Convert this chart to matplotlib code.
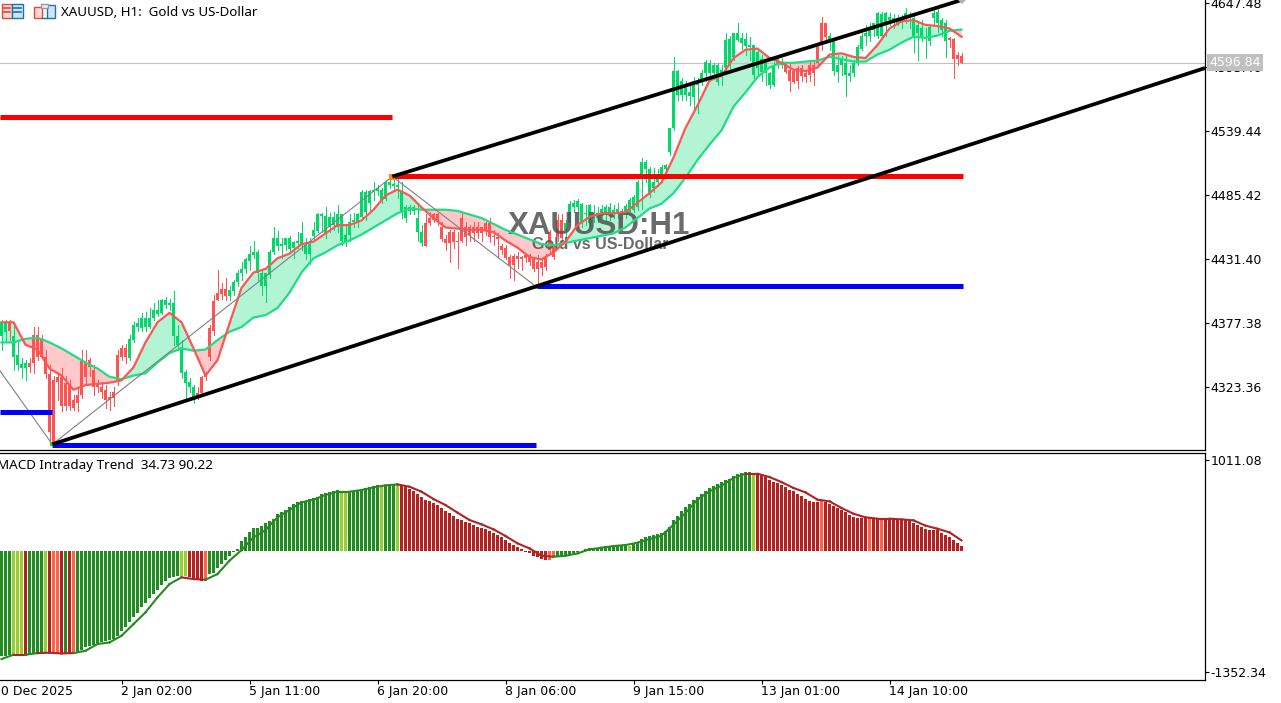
import matplotlib
matplotlib.use("Agg")
import matplotlib.pyplot as plt
from matplotlib.patches import Rectangle
import numpy as np

plt.rcParams['font.family'] = ['Noto Sans', 'DejaVu Sans']

opens = [4366,4370,4378,4349,4342,4339,4339,4344,4367,4367,
4365,4349,4334,4329,4332,4332,4327,4325,4312,4317,
4345,4344,4346,4338,4325,4323,4321,4315,4319,4350,
4356,4356,4348,4363,4374,4373,4374,4374,4382,4385,
4386,4393,4393,4366,4359,4335,4327,4323,4315,4318,
4332,4334,4373,4396,4403,4406,4406,4400,4404,4412,
4420,4423,4430,4435,4420,4409,4409,4418,4437,4442,
4442,4443,4440,4441,4445,4444,4436,4436,4451,4455,
4468,4453,4458,4460,4458,4447,4446,4452,4463,4463,
4467,4471,4479,4488,4489,4480,4482,4494,4493,4492,
4470,4466,4472,4472,4454,4445,4462,4466,4469,4469,
4458,4448,4454,4454,4447,4466,4458,4458,4458,4458,
4458,4462,4462,4451,4450,4442,4441,4433,4434,4434,
4433,4435,4435,4431,4429,4429,4433,4454,4442,4464,
4464,4456,4462,4475,4475,4462,4469,4462,4466,4466,
4470,4469,4469,4469,4469,4469,4469,4471,4473,4475,
4502,4507,4485,4491,4496,4502,4507,4522,4542,4570,
4570,4570,4569,4568,4578,4582,4588,4588,4588,4581,
4585,4593,4595,4602,4616,4614,4611,4610,4587,4593,
4589,4588,4578,4578,4595,4595,4597,4591,4590,4593,
4593,4588,4595,4595,4610,4631,4631,4615,4590,4589,
4595,4587,4586,4588,4597,4609,4620,4620,4625,4620,
4620,4629,4633,4631,4631,4631,4634,4635,4618,4622,
4618,4618,4615,4635,4631,4625,4615,4618,4617,4604,
4603]
closes = [4378,4378,4371,4366,4350,4343,4344,4340,4344,4349,
4349,4334,4285,4276,4328,4307,4307,4307,4306,4310,
4317,4332,4340,4323,4323,4319,4312,4312,4314,4329,
4349,4349,4364,4376,4377,4382,4382,4382,4388,4388,
4397,4397,4394,4394,4366,4357,4336,4328,4323,4315,
4318,4332,4349,4371,4397,4402,4400,4405,4412,4420,
4423,4431,4436,4437,4437,4420,4420,4437,4449,4449,
4444,4449,4449,4446,4447,4453,4443,4444,4456,4469,
4469,4468,4467,4467,4469,4469,4452,4463,4464,4469,
4488,4488,4489,4490,4491,4490,4496,4496,4495,4494,
4488,4475,4475,4475,4466,4454,4442,4462,4464,4463,
4448,4445,4445,4446,4446,4447,4450,4452,4453,4453,
4453,4456,4450,4450,4448,4439,4432,4426,4426,4431,
4431,4432,4429,4423,4423,4424,4425,4439,4433,4450,
4449,4462,4478,4479,4480,4478,4470,4477,4470,4470,
4474,4475,4475,4473,4474,4472,4476,4481,4484,4496,
4513,4513,4507,4496,4499,4509,4511,4542,4590,4590,
4582,4577,4572,4582,4581,4588,4598,4597,4595,4595,
4591,4616,4617,4622,4622,4618,4617,4612,4612,4606,
4600,4597,4588,4595,4601,4597,4589,4582,4581,4582,
4586,4585,4587,4588,4597,4614,4619,4620,4615,4595,
4599,4597,4588,4597,4610,4620,4622,4626,4631,4639,
4638,4639,4636,4635,4635,4633,4639,4637,4635,4629,
4626,4619,4627,4639,4640,4633,4631,4616,4600,4600,
4597]
highs = [4380,4380,4380,4376,4361,4348,4346,4348,4374,4374,
4367,4355,4342,4333,4335,4339,4333,4329,4317,4323,
4355,4355,4348,4342,4329,4328,4325,4319,4323,4355,
4359,4360,4367,4378,4382,4386,4387,4390,4394,4397,
4398,4399,4398,4404,4376,4363,4338,4331,4325,4323,
4333,4336,4376,4401,4422,4411,4415,4409,4414,4422,
4429,4432,4442,4447,4439,4422,4420,4439,4458,4455,
4449,4449,4451,4447,4454,4463,4449,4449,4463,4470,
4470,4475,4470,4471,4477,4469,4460,4469,4470,4470,
4490,4490,4490,4496,4494,4491,4498,4500,4502,4500,
4496,4477,4477,4477,4477,4460,4469,4471,4470,4470,
4463,4452,4456,4456,4454,4470,4463,4460,4463,4463,
4458,4463,4466,4456,4453,4444,4443,4435,4436,4437,
4434,4435,4436,4432,4435,4432,4436,4456,4443,4469,
4469,4464,4480,4481,4482,4479,4477,4478,4477,4475,
4477,4477,4479,4477,4479,4474,4478,4483,4485,4498,
4517,4515,4509,4508,4507,4511,4512,4542,4602,4591,
4584,4582,4578,4585,4584,4591,4599,4599,4597,4597,
4595,4622,4620,4622,4631,4622,4622,4619,4612,4608,
4604,4598,4589,4598,4602,4601,4598,4598,4591,4594,
4595,4591,4599,4599,4612,4636,4631,4622,4616,4604,
4603,4604,4595,4599,4612,4622,4629,4631,4631,4640,
4640,4640,4639,4638,4637,4637,4643,4640,4637,4631,
4633,4626,4629,4642,4642,4635,4633,4619,4618,4606,
4605]
lows = [4355,4363,4363,4338,4338,4331,4329,4336,4335,4346,
4348,4331,4278,4275,4312,4303,4304,4304,4304,4303,
4314,4325,4333,4317,4319,4314,4306,4304,4307,4325,
4346,4344,4346,4361,4371,4371,4371,4373,4380,4383,
4385,4390,4388,4359,4355,4331,4314,4319,4310,4313,
4316,4329,4346,4367,4397,4398,4397,4397,4401,4409,
4414,4420,4422,4432,4414,4401,4395,4415,4436,4439,
4432,4439,4437,4432,4441,4439,4431,4427,4447,4454,
4454,4449,4454,4456,4454,4443,4442,4447,4458,4458,
4466,4464,4473,4481,4485,4479,4481,4491,4490,4483,
4466,4463,4469,4469,4447,4442,4442,4460,4463,4460,
4447,4439,4429,4441,4424,4446,4443,4447,4447,4449,
4447,4452,4446,4443,4433,4436,4431,4415,4414,4424,
4422,4429,4426,4421,4410,4418,4422,4437,4431,4447,
4447,4450,4460,4471,4471,4458,4460,4459,4463,4463,
4466,4464,4464,4466,4466,4466,4466,4469,4471,4473,
4474,4496,4484,4488,4493,4496,4505,4519,4540,4566,
4566,4566,4561,4557,4555,4578,4582,4582,4584,4578,
4578,4591,4593,4599,4615,4609,4604,4599,4584,4587,
4582,4578,4576,4577,4593,4593,4588,4573,4580,4576,
4582,4581,4582,4578,4595,4608,4616,4608,4587,4581,
4587,4569,4582,4586,4595,4608,4612,4615,4620,4618,
4618,4620,4629,4626,4629,4626,4631,4626,4606,4599,
4615,4601,4612,4629,4623,4620,4602,4610,4584,4595,
4597]

# moving averages, read every third bar
ma_bars = list(range(0, 241, 3))
ma_fast = [4378,4378,4359,4355,4339,4333,4321,4325,4326,4327,4329,4340,4361,4378,4386,4378,4356,4333,4346,4377,
4407,4420,4423,4432,4436,4444,4446,4453,4460,4460,4464,4473,4485,4490,4485,4475,4466,4458,4457,4456,
4456,4454,4447,4441,4433,4431,4437,4446,4460,4467,4470,4470,4471,4479,4487,4496,4517,4542,4561,4582,
4586,4601,4608,4609,4601,4597,4591,4590,4593,4604,4605,4602,4601,4612,4626,4632,4633,4629,4628,4626,4619]
ma_slow = [4361,4361,4364,4365,4361,4356,4350,4344,4339,4332,4330,4333,4335,4344,4352,4356,4354,4355,4363,4370,
4374,4382,4384,4390,4403,4420,4432,4437,4443,4447,4452,4458,4464,4470,4474,4473,4473,4473,4472,4469,
4466,4461,4456,4452,4448,4444,4443,4445,4447,4449,4451,4453,4458,4466,4474,4478,4487,4500,4515,4528,
4540,4560,4572,4585,4593,4597,4597,4598,4599,4602,4600,4598,4598,4604,4608,4614,4619,4618,4620,4624,4625]

macd_hist = [-1178,-1171,-1163,-1159,-1152,-1152,-1152,-1152,-1145,-1145,
-1133,-1133,-1133,-1145,-1137,-1145,-1145,-1145,-1145,-1133,
-1104,-1078,-1063,-1048,-1033,-1018,-1003,-992,-985,-948,
-892,-847,-799,-743,-695,-632,-587,-531,-483,-435,
-383,-334,-308,-290,-279,-279,-279,-290,-308,-327,
-342,-342,-260,-253,-193,-149,-104,-56,-11,19,
111,149,204,249,253,279,305,334,353,409,
427,453,483,520,539,550,557,576,583,595,
632,639,650,661,676,650,647,650,650,669,
684,695,706,721,728,713,736,739,747,743,
732,717,687,669,632,602,565,554,535,509,
479,442,424,390,353,342,323,305,286,268,
256,242,219,201,175,156,119,89,63,41,
19,-19,-30,-59,-67,-89,-104,-104,-67,-74,
-59,-59,-48,-30,-19,-4,15,26,26,26,
37,48,52,52,59,59,74,56,82,97,
130,152,167,178,190,201,223,264,346,390,
446,487,524,569,602,635,669,702,725,747,
762,792,803,836,858,870,881,881,847,858,
847,829,792,769,758,736,710,680,661,635,
606,580,557,539,539,550,539,524,502,479,
457,427,394,372,360,360,364,364,357,353,
353,353,353,353,346,338,338,338,308,290,
264,245,234,234,234,201,178,156,123,89,
56]
macd_signal = [-1208,-1159,-1159,-1141,-1137,-1145,-1141,-1115,-1040,-1022,-948,-818,-687,-520,-372,-297,-316,-323,-260,-111,
7,149,230,372,453,539,569,621,658,658,676,706,728,739,713,658,576,509,424,342,
294,238,164,82,26,-56,-67,-56,-30,15,33,52,63,89,130,167,290,420,569,661,
725,810,858,858,821,765,699,650,569,550,476,412,372,357,357,349,338,279,245,204,115]
light_bars = [3,4,5,11,45,46,85,86,95,99,157,188]
tomato_bars = [13,14,18,51,137,138,205,217,220]
red_bars = [6,12,15,17,47,48,49,50] + list(range(100,137)) + list(range(189,241))

high_lines = [4551.25, 4501.1]
low_lines = [4301.9, 4274.8, 4408.2]
zigzag_bars = [-0.375, 12.7, 97.7, 133.7]
zigzag_prices = [4337, 4275, 4501, 4408]
channel_upper_bars = [97.7, 240]
channel_upper_prices = [4501, 4650]
channel_lower_bars = [12.7, 300.875]
channel_lower_prices = [4275, 4592.6]
bid = 4596.84

date_bars = [-2, 30, 62, 94, 126, 158, 190, 222]
date_labels = ["30 Dec 2025", "2 Jan 02:00", "5 Jan 11:00", "6 Jan 20:00",
               "8 Jan 06:00", "9 Jan 15:00", "13 Jan 01:00", "14 Jan 10:00"]
price_ticks = [4647.48, 4593.46, 4539.44, 4485.42, 4431.40, 4377.38, 4323.36]
macd_ticks = [1011.08, -1352.34]

W, H = 1281, 703
AXR = 1205
NUM_FONT = "DejaVu Sans"
fig = plt.figure(figsize=(W / 100, H / 100), dpi=100, facecolor="white")
ax = fig.add_axes([0, 1 - 450 / H, AXR / W, 450 / H])
ax2 = fig.add_axes([0, 1 - 680 / H, AXR / W, 227 / H])
for a in (ax, ax2):
    a.set_xlim(-0.375, 300.875)
    a.spines["left"].set_visible(False)
    a.spines["top"].set_visible(a is ax2)
    a.spines["right"].set_linewidth(0.9)
    a.spines["bottom"].set_linewidth(0.9)
    a.spines["top"].set_linewidth(0.9)
    a.yaxis.tick_right()
    a.tick_params(axis="y", length=3, width=0.8, pad=1, labelsize=9)
ax.set_ylim(4270.2, 4650.0)
ax2.set_ylim(-1441, 1089)
ax.set_xticks([])

bars = np.arange(len(opens))
o, c, h, l = map(np.array, (opens, closes, highs, lows))
cols = np.where(c >= o, "#00D96C", "#FF5252")

ax.fill_between(ma_bars, ma_fast, ma_slow, where=np.array(ma_fast) >= np.array(ma_slow),
                interpolate=True, color="#B2F4D4", lw=0, zorder=1)
ax.fill_between(ma_bars, ma_fast, ma_slow, where=np.array(ma_fast) < np.array(ma_slow),
                interpolate=True, color="#FFC9C9", lw=0, zorder=1)
ax.vlines(bars, l, h, colors=cols, lw=0.72, zorder=2, antialiased=False)
ax.bar(bars, np.maximum(np.abs(c - o), 1), bottom=np.minimum(o, c), width=0.76, color=cols,
       lw=0, zorder=2, antialiased=False)

ax.text(149.3, 4459.5, "XAUUSD:H1", family="Liberation Sans", weight="bold", fontsize=22.5, color="#505050",
        alpha=0.85, ha="center", va="center", zorder=2.5)
ax.text(149.8, 4444, "Gold vs US-Dollar", family="Liberation Sans", weight="bold", fontsize=11.5, color="#505050",
        alpha=0.85, ha="center", va="center", zorder=2.5)

ax.plot(ma_bars, ma_slow, color="#1FDD85", lw=1.6, zorder=3)
ax.plot(ma_bars, ma_fast, color="#FF5555", lw=1.6, zorder=3.1)

ax.axhline(bid, color="#C0C0C0", lw=0.8, zorder=1.5)
ax.plot(zigzag_bars, zigzag_prices, color="#808080", lw=0.8, zorder=3.5)

ax.plot([-0.375, 97.7], [high_lines[0]] * 2, color="#FF0000", lw=3.6, solid_capstyle="butt", zorder=4)
ax.plot([97.7, 240.4], [high_lines[1]] * 2, color="#FF0000", lw=3.6, solid_capstyle="butt", zorder=4)
ax.plot([-0.375, 12.7], [low_lines[0]] * 2, color="#0000FF", lw=3.6, solid_capstyle="butt", zorder=4)
ax.plot([12.7, 133.7], [low_lines[1]] * 2, color="#0000FF", lw=3.6, solid_capstyle="butt", zorder=4)
ax.plot([133.7, 240.4], [low_lines[2]] * 2, color="#0000FF", lw=3.6, solid_capstyle="butt", zorder=4)

ax.plot(zigzag_bars[1], zigzag_prices[1], "s", color="#33CC33", ms=3.5, mew=0, zorder=4.5)
ax.plot(zigzag_bars[2], zigzag_prices[2], "s", color="#FF8C00", ms=4.5, mew=0, zorder=4.5)
ax.plot(zigzag_bars[3], zigzag_prices[3], "s", color="#33CC33", ms=3.5, mew=0, zorder=4.5)

ax.plot(channel_upper_bars, channel_upper_prices, color="black", lw=2.7, solid_capstyle="butt", zorder=5)
ax.plot(channel_lower_bars, channel_lower_prices, color="black", lw=2.7, solid_capstyle="butt", zorder=5)
ax.plot(240, 4650, "D", color="#B0B0B0", ms=4, mew=0, zorder=5)

ax.set_yticks(price_ticks)
ax.set_yticklabels(["%.2f" % v for v in price_ticks], family=NUM_FONT)

# histogram and signal, coloured per bar
hist_cols = ["#228B22"] * len(macd_hist)
for i in light_bars:
    hist_cols[i] = "#9ACD32"
for i in red_bars:
    hist_cols[i] = "#B22222"
for i in tomato_bars:
    hist_cols[i] = "#FF6347"
ax2.bar(bars, macd_hist, width=0.76, color=hist_cols, lw=0, antialiased=False, zorder=2)
for i in range(len(ma_bars) - 1):
    seg_col = hist_cols[ma_bars[i + 1]]
    if seg_col == "#9ACD32":
        seg_col = "#228B22"
    elif seg_col == "#FF6347":
        seg_col = "#B22222"
    ax2.plot(ma_bars[i:i + 2], macd_signal[i:i + 2], color=seg_col, lw=1.5, zorder=3,
             solid_capstyle="projecting")

ax2.set_yticks(macd_ticks)
ax2.set_yticklabels(["%.2f" % v for v in macd_ticks], family=NUM_FONT)
ax2.set_xticks([b for b in date_bars if b > -0.375])
ax2.set_xticklabels([])
ax2.tick_params(axis="x", length=3, width=0.8)
for b, lab in zip(date_bars, date_labels):
    ax2.annotate(lab, (b, 0), xycoords=("data", "axes fraction"), xytext=(-0.4, -8.5),
                 textcoords="offset points", ha="left", va="center", fontsize=9, family=NUM_FONT,
                 annotation_clip=False)

# overlay in pixels for the header, icons and price tag
ov = fig.add_axes([0, 0, 1, 1], zorder=10)
ov.set_xlim(0, W)
ov.set_ylim(H, 0)
ov.axis("off")
ov.patch.set_alpha(0)
ov.text(61, 12, "XAUUSD, H1:  Gold vs US-Dollar", fontsize=9.6, va="center", ha="left")
ov.text(-3, 465, "MACD Intraday Trend  34.73 90.22", fontsize=9.7, va="center", ha="left")

ov.add_patch(Rectangle((1207, 54), 56, 17, color="#C0C0C0", lw=0))
ov.text(1235, 62.5, "4596.84", color="white", fontsize=9, family=NUM_FONT, ha="center", va="center")

ov.add_patch(Rectangle((1.5, 3.5), 10, 14, fc="#FFD9D0", ec="#E04A3A", lw=1))
ov.add_patch(Rectangle((11.5, 3.5), 11, 14, fc="#CFE5F7", ec="#1F6FB5", lw=1))
for yy in (8, 12):
    ov.plot([3, 10], [yy, yy], color="#E04A3A", lw=1.2)
    ov.plot([13, 21], [yy, yy], color="#1F6FB5", lw=1.2)
ov.add_patch(Rectangle((33.5, 6.5), 8, 11, fc="#FFD9D0", ec="#E04A3A", lw=1))
ov.add_patch(Rectangle((46.5, 4.5), 8, 13, fc="#CFE5F7", ec="#1F6FB5", lw=1))
ov.add_patch(Rectangle((40.5, 3.5), 7, 4, fc="#EEEEEE", ec="#999999", lw=1))
ov.plot([41.5, 46.5], [17.5, 17.5], color="#1F6FB5", lw=1)

fig.savefig("out.png", dpi=100)
